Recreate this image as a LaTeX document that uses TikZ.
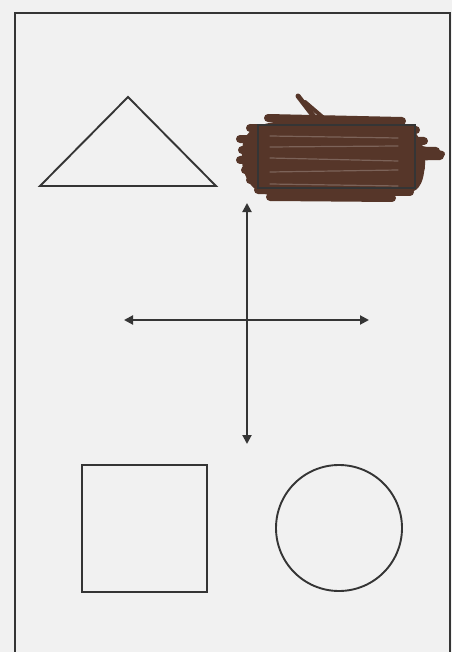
\documentclass[tikz,border=0pt]{standalone}
\usepackage{xcolor}
\usetikzlibrary{arrows.meta}
\definecolor{paper}{HTML}{F1F1F1}
\definecolor{ink}{HTML}{353535}
\definecolor{crayon}{HTML}{563629}

\begin{document}
\begin{tikzpicture}[
  x=1pt, y=-1pt,
  outline/.style={draw=ink, line width=1.9pt},
  axis/.style={draw=ink, line width=2pt, {Triangle[length=9pt,width=9pt]}-{Triangle[length=9pt,width=9pt]}},
  crayonstroke/.style={draw=crayon, line width=8pt, line cap=round},
  streak/.style={draw=crayon!55!white, line width=1.2pt, line cap=round, opacity=0.5}
]
\fill[paper] (0,0) rectangle (452,652);
\useasboundingbox (0,0) rectangle (452,652);
% page frame, cut off at the bottom
\draw[ink, line width=2pt] (15,652) -- (15,13) -- (450,13) -- (450,652);
% top row
\draw[outline] (128,97) -- (216,186) -- (40,186) -- cycle;
\fill[crayon] plot[smooth cycle] coordinates {(244,140) (265,124) (330,116) (400,122) (420,140) (425,165) (412,192) (340,197) (265,194) (244,172)};
\foreach \xa/\ya/\xb/\yb in {268/118/402/121, 250/128/416/130, 240/139/424/141, 242/150/436/151,
  240/160/440/156, 245/170/421/168, 250/180/414/182, 258/190/410/192, 270/197/392/198}
  \draw[crayonstroke] (\xa,\ya) -- (\xb,\yb);
\draw[crayon, line width=5pt, line cap=round] (298,96) -- (318,122);
\draw[crayon, line width=4pt, line cap=round] (305,102) -- (326,120);
\draw[crayon, line width=6pt, line cap=round] (414,147) -- (442,154);
\foreach \ya/\yb in {136/138,147/146,158/161,172/170,184/186} \draw[streak] (270,\ya) -- (398,\yb);
\draw[ink, line width=1.2pt] (258,125) rectangle (415,188);
% axes
\coordinate (top) at (247,203);
\coordinate (bottom) at (247,444);
\coordinate (left) at (124,320);
\coordinate (right) at (369,320);
\draw[axis] (top) -- (bottom);
\draw[axis] (left) -- (right);
% bottom row
\draw[outline] (82,465) rectangle (207,592);
\draw[outline] (339,528) circle (63);
\end{tikzpicture}
\end{document}
